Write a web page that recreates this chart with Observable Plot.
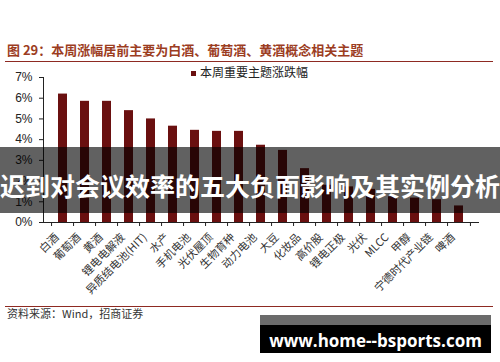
<!DOCTYPE html>
<html><head><meta charset="utf-8">
<script src="https://cdn.jsdelivr.net/npm/d3@7"></script>
<script src="https://cdn.jsdelivr.net/npm/@observablehq/plot@0.6"></script>
<style>
body{margin:0;background:#fff;}
#wrap{position:relative;width:500px;height:362px;overflow:hidden;font-family:"Noto Sans CJK SC",sans-serif;background:#fff;}
#title{position:absolute;left:7px;top:42px;font-size:13px;line-height:16px;font-weight:bold;color:#9c3d1f;white-space:nowrap;}
.rule{position:absolute;left:5px;width:488px;height:1px;background:#8e2a22;}
#legend{position:absolute;left:191px;top:64px;font-size:12px;line-height:16px;color:#222;white-space:nowrap;}
#legend .sw{display:inline-block;width:5px;height:5px;background:#6a1010;margin-right:4px;vertical-align:1px;}
#chart{position:absolute;left:0;top:64px;}
#source{position:absolute;left:7px;top:306px;font-size:11px;line-height:14px;color:#333;white-space:nowrap;}
#banner{position:absolute;left:0;top:147px;width:500px;height:66px;background:rgba(0,0,0,0.62);}
#banner .t{position:absolute;left:0;width:500px;top:23px;line-height:30px;text-align:center;color:#fff;font-weight:bold;font-size:25px;white-space:nowrap;}
#wm{position:absolute;left:260px;top:315px;width:231px;height:38px;background:#000;}
#wm .top{position:absolute;left:0;top:0;width:231px;height:10px;background:#6b6b6b;}
#wm .t{position:absolute;left:0;width:231px;top:16px;line-height:20px;text-align:center;color:#fff;font-family:"Open Sans",sans-serif;font-weight:bold;font-size:17px;white-space:nowrap;}
</style></head><body>
<div id="wrap">
  <div id="title">图 29：本周涨幅居前主要为白酒、葡萄酒、黄酒概念相关主题</div>
  <div class="rule" style="top:61px"></div>
  <div id="chart"></div>
  <div id="legend"><span class="sw"></span>本周重要主题涨跌幅</div>
  <div class="rule" style="top:306px"></div>
  <div id="source">资料来源：Wind，招商证券</div>
  <div id="banner"><div class="t">迟到对会议效率的五大负面影响及其实例分析</div></div>
  <div id="wm"><div class="top"></div><div class="t">www.home--bsports.com</div></div>
</div>
<script>
const categories = ["白酒","葡萄酒","黄酒","锂电电解液","异质结电池(HIT)","水产","手机电池","光伏屋顶","生物育种","动力电池","大豆","化妆品","高价股","锂电正极","光伏","MLCC","甲醇","宁德时代产业链","啤酒"];
const values = [6.2,5.85,5.85,5.4,5.0,4.65,4.45,4.4,4.4,3.73,3.48,2.6,1.8,1.72,1.6,1.24,1.18,1.1,0.8];
const yTicks = [0,1,2,3,4,5,6,7];

const data = categories.map((c,i)=>({c, v: values[i]}));
const mL = 43, mR = 22;
const step = (500 - mL - mR) / categories.length;
const chart = Plot.plot({
  width: 500, height: 240,
  marginLeft: mL, marginRight: mR, marginTop: 13, marginBottom: 82,
  style: {fontFamily: "'Liberation Sans', Arial, sans-serif", fontSize: "12px", color: "#222", background: "transparent", overflow: "visible"},
  x: {domain: categories, paddingInner: 0.6, paddingOuter: 0.3, axis: null, label: null},
  y: {domain: [0, 7], axis: null, label: null},
  marks: [
    Plot.barY(data, {x: "c", y: "v", fill: "#6a1010"}),
    Plot.axisY({ticks: yTicks, tickFormat: d => d + "%", tickSize: 4, tickPadding: 7, fontSize: 12, stroke: "#222", label: null}),
    Plot.frame({anchor: "left", stroke: "#222"}),
    Plot.frame({anchor: "bottom", stroke: "#222"}),
    Plot.ruleX(categories, {x: d => d, y1: 0, y2: 0, dx: -step/2, insetBottom: -4, stroke: "#222"}),
    Plot.ruleX([categories[categories.length-1]], {x: d => d, y1: 0, y2: 0, dx: step/2, insetBottom: -4, stroke: "#222"}),
    Plot.text(categories, {x: d => d, y: 0, text: d => d, rotate: -45, textAnchor: "end", lineAnchor: "top", dx: -9, dy: 10, fontFamily: "'Noto Sans CJK SC', sans-serif", fontSize: 11, fill: "#333"})
  ]
});
document.getElementById("chart").appendChild(chart);
</script>
</body></html>
